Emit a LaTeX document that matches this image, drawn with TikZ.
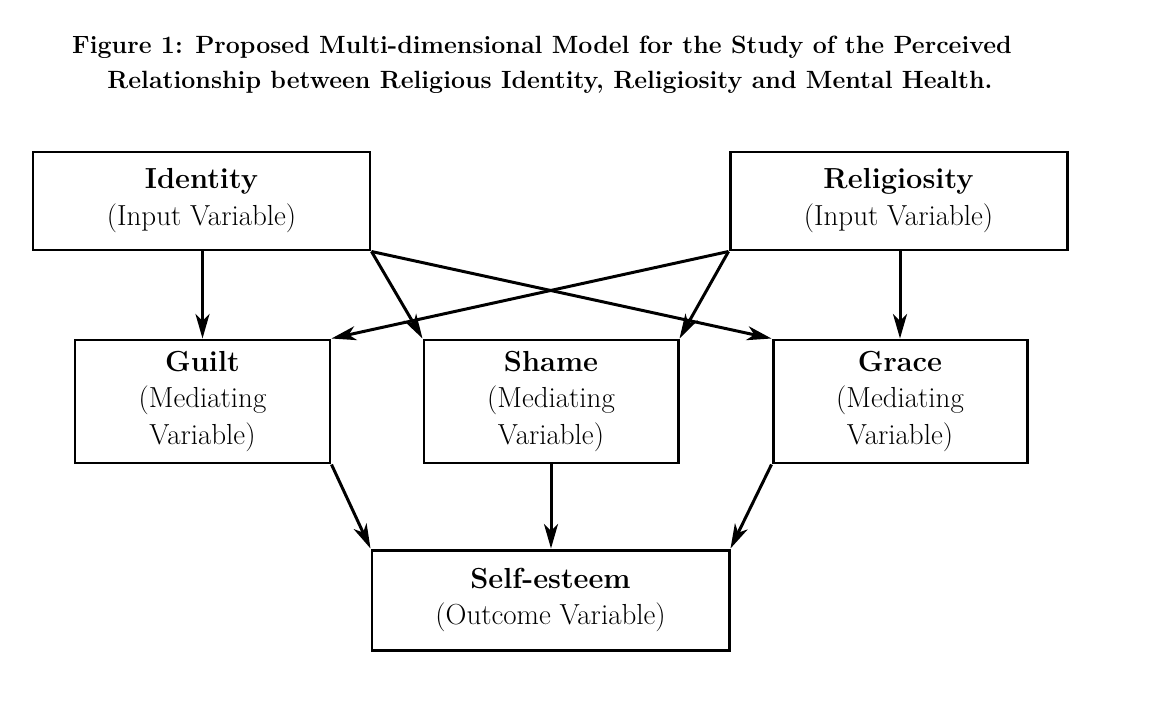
\documentclass[tikz,border=0pt]{standalone}
\usetikzlibrary{arrows.meta}
\begin{document}
\begin{tikzpicture}[x=0.02cm,y=-0.02cm,
  box/.style={draw,line width=1.7pt,minimum width=#1*0.02cm,inner sep=0pt,align=center,font=\fontsize{16.5}{21}\selectfont},
  arr/.style={line width=1.7pt,-{Stealth[length=14pt,width=8pt,inset=4pt]}},
  ttl/.style={font=\bfseries\fontsize{14.2}{18}\selectfont}]
\useasboundingbox (0,0) rectangle (1163,720);
\node[ttl] (t1) at (542,47) {Figure 1: Proposed Multi-dimensional Model for the Study of the Perceived};
\node[ttl] (t2) at (550,82) {Relationship between Religious Identity, Religiosity and Mental Health.};
\node[box=337,minimum height=98*0.02cm] (id) at (201.5,201) {\textbf{Identity}\\(Input Variable)};
\node[box=337,minimum height=98*0.02cm] (rel) at (898.5,201) {\textbf{Religiosity}\\(Input Variable)};
\node[box=255,minimum height=123*0.02cm] (gu) at (202.5,401.5) {\textbf{Guilt}\\(Mediating\\Variable)};
\node[box=254,minimum height=123*0.02cm] (sh) at (551,401.5) {\textbf{Shame}\\(Mediating\\Variable)};
\node[box=254,minimum height=123*0.02cm] (gr) at (900,401.5) {\textbf{Grace}\\(Mediating\\Variable)};
\node[box=357,minimum height=100*0.02cm] (se) at (550.5,600) {\textbf{Self-esteem}\\(Outcome Variable)};
\draw[arr] (id.south -| gu.north) -- (gu.north);
\draw[arr] (rel.south -| gr.north) -- (gr.north);
\draw[arr] (id.south east) -- (sh.north west);
\draw[arr] (id.south east) -- (gr.north west);
\draw[arr] (rel.south west) -- (gu.north east);
\draw[arr] (rel.south west) -- (sh.north east);
\draw[arr] (gu.south east) -- (se.north west);
\draw[arr] (sh.south) -- (sh.south |- se.north);
\draw[arr] (gr.south west) -- (se.north east);
\end{tikzpicture}
\end{document}
